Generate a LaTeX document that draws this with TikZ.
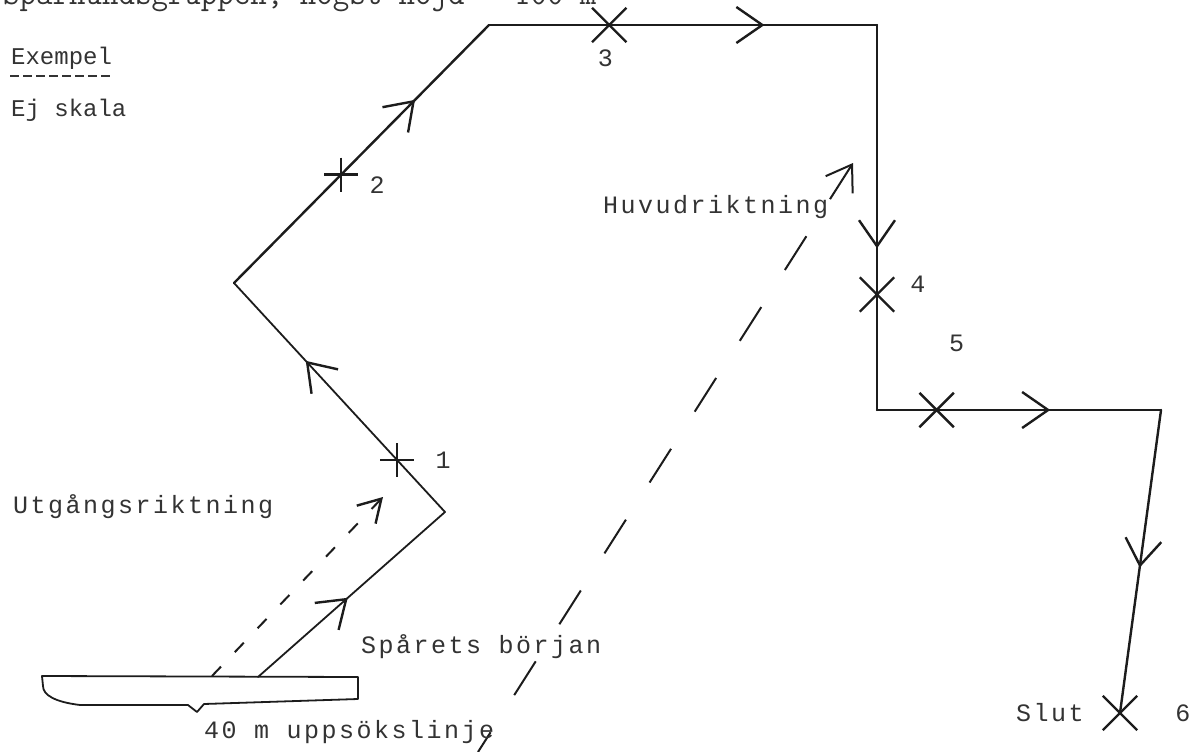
\documentclass[tikz,border=0pt]{standalone}
\usepackage{fontspec}
\newfontfamily\labelfont[LetterSpace=10]{Liberation Mono}
\newfontfamily\notefont{Liberation Mono}
\usetikzlibrary{arrows.meta,calc,positioning,shapes.misc,decorations.markings}
\definecolor{Pencil}{HTML}{1C1C1C}
\definecolor{Typed}{HTML}{333333}
\tikzset{
  track/.style={draw=Pencil, line width=2.4pt, line cap=round},
  thintrack/.style={track, line width=1.8pt},
  midtip/.style={postaction={decorate,decoration={markings,
      mark=at position #1 with {\arrow{Straight Barb[length=26pt,width=36pt,line width=2.4pt]}}}}},
  xcross/.style={cross out, draw=Pencil, line width=2.4pt,
    minimum size=32pt, inner sep=0pt},
  pcross/.style={minimum size=34pt, inner sep=0pt,
    path picture={\draw[Pencil, line width=2.4pt]
      (path picture bounding box.north) -- (path picture bounding box.south)
      (path picture bounding box.west) -- (path picture bounding box.east);}},
  txt/.style={font=\labelfont\fontsize{25}{30}\selectfont, text=Typed, inner sep=1pt},
  note/.style={font=\notefont\fontsize{24}{28}\selectfont, text=Typed, inner sep=1pt},
  mainline/.style={draw=Pencil, line width=2pt, dash pattern=on 40pt off 44pt,
    {Straight Barb[length=24pt,width=32pt,line width=2pt]}-},
  startline/.style={draw=Pencil, line width=2pt, dash pattern=on 13pt off 20pt,
    -{Straight Barb[length=22pt,width=26pt,line width=2.4pt]}}
}

\begin{document}
\begin{tikzpicture}[x=1pt, y=-1pt]
  \useasboundingbox (0,0) rectangle (1191,752);

  % header, cut at the top edge
  \node[anchor=base west, font=\ttfamily\fontsize{32}{36}\selectfont, text=Typed, inner sep=0pt]
    (head) at (3,5) {Spårhundsgruppen, högst höjd \ \textasciitilde100 m};

  \node[note, anchor=base west] (ex) at (10,65) {Exempel};
  \draw[Typed, line width=2pt, dash pattern=on 9pt off 4pt]
    ([yshift=-5pt]ex.south west) -- ([yshift=-5pt]ex.south east);
  \node[note, anchor=base west] (ej) at (10,116) {Ej skala};

  % uppsökslinje
  \draw[Pencil, line width=1.8pt, line join=round]
    (42,676) -- (358,677) -- (358,699) -- (204,704) -- (197,712) -- (188,705)
    -- (80,705) .. controls (55,702) and (43,695) .. (43,686) -- cycle;
  \coordinate (s0) at (258,677);
  \coordinate (u0) at (212,676);
  \coordinate (u1) at (383,497);

  % spåret
  \coordinate (c1) at (445,512);
  \coordinate (c2) at (234,283);
  \coordinate (c3) at (489,25);
  \coordinate (c4) at (877,25);
  \coordinate (c5) at (877,410);
  \coordinate (c6) at (1161,410);
  \coordinate (c7) at (1120,713);
  \draw[thintrack, midtip=0.48] (s0) -- (c1);
  \draw[thintrack, midtip=0.66] (c1) -- (c2);
  \draw[track, midtip=0.71] (c2) -- (c3);
  \draw[track, midtip=0.71] (c3) -- (c4);
  \draw[track, midtip=0.58] (c4) -- (c5);
  \draw[track, midtip=0.61] (c5) -- (c6);
  \draw[track, midtip=0.52] (c6) -- (c7);

  % apporter
  \node[pcross] (m1) at ($(c1)!0.227!(c2)$) {};
  \node[pcross] (m2) at ($(c2)!0.42!(c3)$) {};
  \node[xcross] (m3) at ($(c3)!0.31!(c4)$) {};
  \node[xcross] (m4) at ($(c4)!0.70!(c5)$) {};
  \node[xcross] (m5) at ($(c5)!0.21!(c6)$) {};
  \node[xcross] (m6) at (c7) {};
  \node[txt, right=20pt of m1] (n1) {1};
  \node[txt, right=10pt of m2, yshift=-10pt] (n2) {2};
  \node[txt, below=6pt of m3, xshift=-4pt] (n3) {3};
  \node[txt, right=15pt of m4, yshift=10pt] (n4) {4};
  \node[txt, above=40pt of m5, xshift=20pt] (n5) {5};
  \node[txt, right=37pt of m6] (n6) {6};
  \node[txt, left=18pt of m6] (slut) {Slut};

  % riktningar
  \draw[startline] (u0) -- (u1);
  \coordinate (h0) at (478,752);
  \coordinate (h1) at (853,163);
  \draw[mainline] (h1) -- (h0);

  \node[txt, anchor=base west] (utg) at (12,513) {Utgångsriktning};
  \node[txt, anchor=base west] (spb) at (360,653) {Spårets början};
  \node[txt, anchor=base west] (upps) at (203,738) {40 m uppsökslinje};
  \node[txt, anchor=base west] (huv) at (602,213) {Huvudriktning};
\end{tikzpicture}
\end{document}
